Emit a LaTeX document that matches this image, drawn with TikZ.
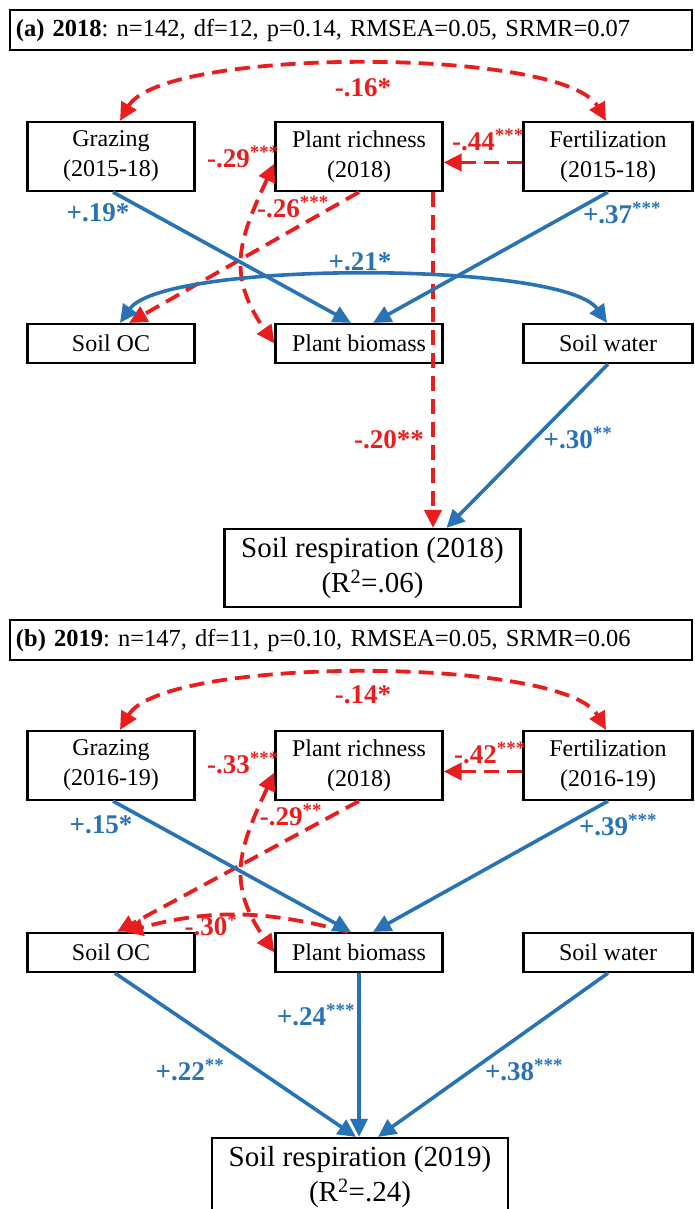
\documentclass[tikz,border=0pt]{standalone}
\usepackage{fontspec}
\setmainfont{Liberation Serif}
\usetikzlibrary{arrows.meta}
\definecolor{pathblue}{RGB}{40,114,182}
\definecolor{pathred}{RGB}{232,30,30}
\begin{document}
\begin{tikzpicture}[x=1pt,y=1pt,
    box/.style={draw,line width=2.2pt,minimum width=167pt,minimum height=69pt,inner sep=0pt,align=center,font=\fontsize{24}{30}\selectfont},
    lowbox/.style={box,minimum height=39pt},
    respbox/.style={box,minimum width=296pt,minimum height=78pt,font=\fontsize{29}{35}\selectfont},
    headbox/.style={draw,line width=1.5pt,text width=670pt,minimum height=40pt,inner xsep=6pt,inner ysep=0pt,align=left,font=\fontsize{24.5}{27}\selectfont\frenchspacing},
    posline/.style={draw=pathblue,line width=3.6pt,-{Triangle[length=18pt,width=17pt]}},
    negline/.style={draw=pathred,line width=3.8pt,dash pattern=on 15pt off 8pt,-{Triangle[length=18pt,width=17pt]}},
    twohead/.style={{Triangle[length=18pt,width=17pt]}-{Triangle[length=18pt,width=17pt]}},
    poslab/.style={text=pathblue,inner sep=0pt,font=\fontsize{27}{29}\selectfont\bfseries},
    neglab/.style={text=pathred,inner sep=0pt,font=\fontsize{27}{29}\selectfont\bfseries}]
  \useasboundingbox (0,0) rectangle (694,-1209);
  \node[headbox] (ha) at (351,-30) {\textbf{(a) 2018}: n=142, df=12, p=0.14, RMSEA=0.05, SRMR=0.07};
  \node[box] (ga) at (111,-156.5) {Grazing\\(2015-18)};
  \node[box] (ra) at (359,-156.5) {Plant richness\\(2018)};
  \node[box,minimum width=169pt] (fa) at (608,-156.5) {Fertilization\\(2015-18)};
  \node[lowbox] (oca) at (111,-343.5) {Soil OC};
  \node[lowbox] (ba) at (359,-343.5) {Plant biomass};
  \node[lowbox,minimum width=169pt] (wa) at (608,-343.5) {Soil water};
  \node[respbox] (sa) at (372.5,-568) {Soil respiration (2018)\\(R\textsuperscript{2}=.06)};
  \coordinate (ta) at ([xshift=74pt]ra.south);
  \begin{scope}[negline]
    \draw[twohead] ([xshift=9pt]ga.north) to[out=60,in=120,looseness=.45] ([xshift=-2pt]fa.north);
    \draw ([yshift=-6pt]fa.west) -- ([yshift=-6pt]ra.east);
    \draw[twohead] ([yshift=-7pt]ra.west) to[out=245,in=125,looseness=1.2] (ba.west);
    \draw (ra.south) -- ([xshift=18pt]oca.north);
    \draw (ta) -- (ta |- sa.north);
  \end{scope}
  \begin{scope}[posline]
    \draw ([xshift=2pt]ga.south) -- ([xshift=-8pt]ba.north);
    \draw (fa.south) -- ([xshift=14pt]ba.north);
    \draw[twohead] ([xshift=9pt]oca.north) to[out=55,in=125,looseness=.4] ([xshift=-1pt]wa.north);
    \draw (wa.south) -- ([xshift=74pt]sa.north);
  \end{scope}
  \node[neglab] (la1) at (363,-88) {-.16*};
  \node[neglab] (la2) at (488,-140) {-.44\textsuperscript{***}};
  \node[neglab] (la3) at (243,-157) {-.29\textsuperscript{***}};
  \node[neglab] (la4) at (293,-207) {-.26\textsuperscript{***}};
  \node[poslab] (la5) at (98,-213) {+.19*};
  \node[poslab] (la6) at (622,-213) {+.37\textsuperscript{***}};
  \node[poslab] (la7) at (360,-262) {+.21*};
  \node[neglab] (la8) at (389,-440) {-.20**};
  \node[poslab] (la9) at (578,-438) {+.30\textsuperscript{**}};
  \node[headbox] (hb) at (351,-640) {\textbf{(b) 2019}: n=147, df=11, p=0.10, RMSEA=0.05, SRMR=0.06};
  \node[box] (gb) at (111,-765.5) {Grazing\\(2016-19)};
  \node[box] (rb) at (359,-765.5) {Plant richness\\(2018)};
  \node[box,minimum width=169pt] (fb) at (608,-765.5) {Fertilization\\(2016-19)};
  \node[lowbox] (ocb) at (111,-952.5) {Soil OC};
  \node[lowbox] (bb) at (359,-952.5) {Plant biomass};
  \node[lowbox,minimum width=169pt] (wb) at (608,-952.5) {Soil water};
  \node[respbox] (sb) at (360,-1177) {Soil respiration (2019)\\(R\textsuperscript{2}=.24)};
  \begin{scope}[negline]
    \draw[twohead] ([xshift=9pt]gb.north) to[out=60,in=120,looseness=.45] ([xshift=-2pt]fb.north);
    \draw ([yshift=-6pt]fb.west) -- ([yshift=-6pt]rb.east);
    \draw[twohead] ([yshift=-7pt]rb.west) to[out=245,in=125,looseness=1.2] (bb.west);
    \draw (rb.south) -- ([xshift=6pt]ocb.north);
    \draw ([xshift=-11pt]bb.north) to[out=165,in=15] ([xshift=14pt]ocb.north);
  \end{scope}
  \begin{scope}[posline]
    \draw ([xshift=2pt]gb.south) -- ([xshift=-8pt]bb.north);
    \draw (fb.south) -- ([xshift=14pt]bb.north);
    \draw ([xshift=4pt]ocb.south) -- ([xshift=-4pt]sb.north);
    \draw (bb.south) -- (bb.south |- sb.north);
    \draw (wb.south) -- ([xshift=18pt]sb.north);
  \end{scope}
  \node[neglab] (lb1) at (363,-695) {-.14*};
  \node[neglab] (lb2) at (490,-753) {-.42\textsuperscript{***}};
  \node[neglab] (lb3) at (243,-763) {-.33\textsuperscript{***}};
  \node[neglab] (lb4) at (291,-815) {-.29\textsuperscript{**}};
  \node[poslab] (lb5) at (101,-825) {+.15*};
  \node[poslab] (lb6) at (618,-825) {+.39\textsuperscript{***}};
  \node[neglab] (lb7) at (211,-925) {-.30\textsuperscript{*}};
  \node[poslab] (lb8) at (316,-1015) {+.24\textsuperscript{***}};
  \node[poslab] (lb9) at (190,-1070) {+.22\textsuperscript{**}};
  \node[poslab] (lb10) at (524,-1070) {+.38\textsuperscript{***}};
\end{tikzpicture}
\end{document}
